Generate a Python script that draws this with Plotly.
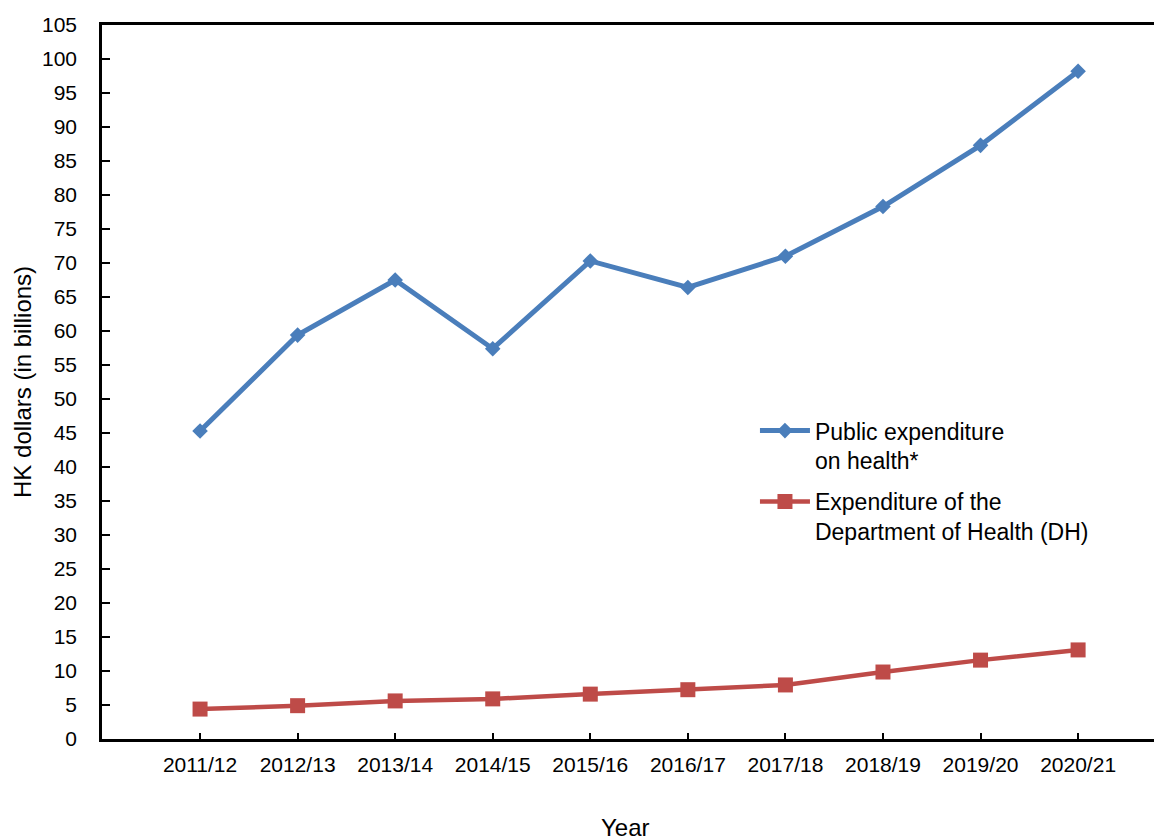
import plotly.graph_objects as go

years = ["2011/12", "2012/13", "2013/14", "2014/15", "2015/16",
         "2016/17", "2017/18", "2018/19", "2019/20", "2020/21"]
public_health = [45.3, 59.4, 67.5, 57.4, 70.3, 66.4, 71.0, 78.3, 87.3, 98.2]
dh_expenditure = [4.4, 4.9, 5.6, 5.9, 6.6, 7.25, 7.95, 9.85, 11.6, 13.1]
y_ticks = list(range(0, 106, 5))

FONT = "Arial, 'Liberation Sans', sans-serif"
BLUE = "#4A7EBB"
RED = "#BE4B48"

fig = go.Figure()
fig.add_trace(go.Scatter(
    x=years, y=public_health, mode="lines+markers",
    name="Public expenditure<br>on health*", legendgroup="a",
    line=dict(color=BLUE, width=5),
    marker=dict(symbol="diamond", size=12, color=BLUE),
))
fig.add_trace(go.Scatter(
    x=years, y=dh_expenditure, mode="lines+markers",
    name="Expenditure of the<br>Department of Health (DH)", legendgroup="b",
    line=dict(color=RED, width=4.5),
    marker=dict(symbol="square", size=15, color=RED),
))

fig.update_layout(
    width=1154, height=828,
    margin=dict(l=94, r=0, t=17, b=97),
    paper_bgcolor="white", plot_bgcolor="white",
    font=dict(family=FONT, size=21, color="black"),
    showlegend=True,
    legend=dict(
        x=0.616, y=0.462, xanchor="left", yanchor="top",
        bgcolor="rgba(0,0,0,0)", font=dict(size=23, color="black"),
        valign="top", itemwidth=50, tracegroupgap=8,
    ),
    xaxis=dict(
        type="category", range=[-1.005, 9.86],
        showline=True, linecolor="black", linewidth=2.5, mirror=True,
        ticks="inside", ticklen=6, tickwidth=1.5, tickcolor="black",
        showgrid=False, zeroline=False,
        tickfont=dict(size=21), ticklabelstandoff=5,
    ),
    yaxis=dict(
        range=[0, 105], tickvals=y_ticks,
        showline=True, linecolor="black", linewidth=2.5,
        ticks="inside", ticklen=8, tickwidth=2, tickcolor="black",
        showgrid=False, zeroline=False,
        tickfont=dict(size=21), ticklabelstandoff=18,
    ),
    annotations=[
        dict(text="HK dollars (in billions)", textangle=-90,
             xref="paper", yref="paper", x=-0.0755, y=0.5,
             xanchor="center", yanchor="middle", showarrow=False,
             font=dict(size=24)),
        dict(text="Year", xref="paper", yref="paper", x=0.4934, y=-0.1025,
             xanchor="center", yanchor="top", showarrow=False,
             font=dict(size=24)),
    ],
)

fig.write_html("out.html")
